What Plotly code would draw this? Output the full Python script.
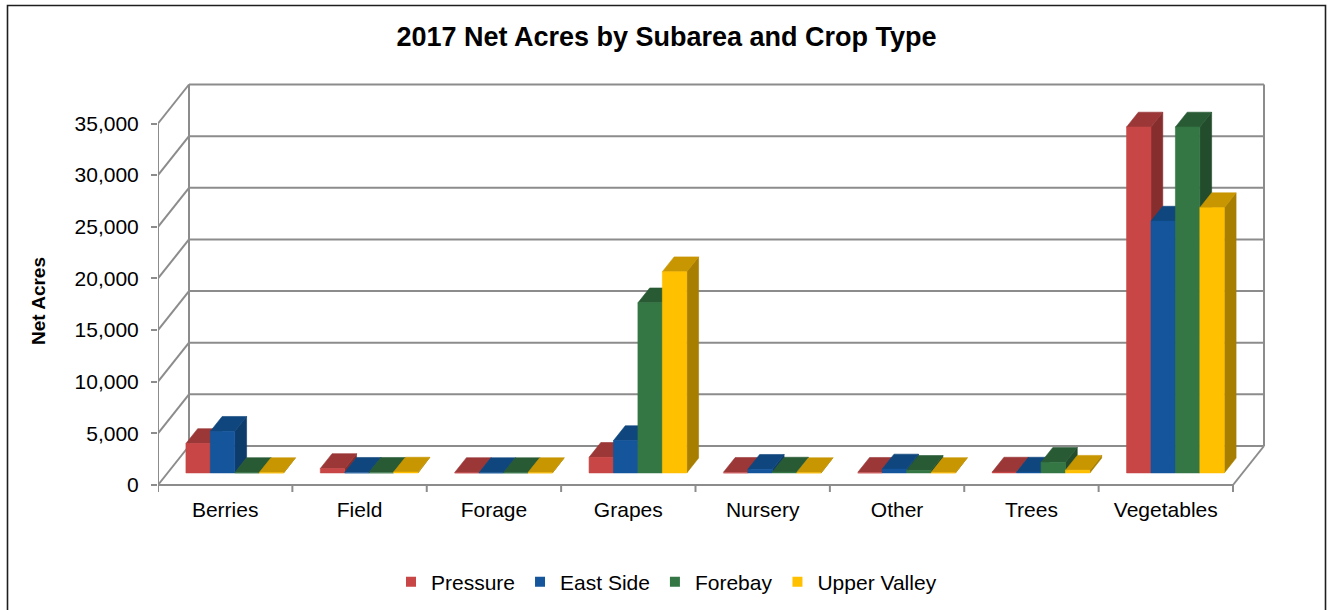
import plotly.graph_objects as go

# ---- data -------------------------------------------------------------
categories = ["Berries", "Field", "Forage", "Grapes", "Nursery", "Other", "Trees", "Vegetables"]
series_names = ["Pressure", "East Side", "Forebay", "Upper Valley"]
pressure = [2850, 430, 40, 1510, 60, 60, 80, 33490]
east_side = [4030, 60, 30, 3130, 350, 380, 80, 24380]
forebay = [40, 60, 30, 16470, 80, 250, 1030, 33490]
upper_valley = [30, 80, 30, 19480, 30, 40, 260, 25680]
y_ticks = [0, 5000, 10000, 15000, 20000, 25000, 30000, 35000]

series_values = [pressure, east_side, forebay, upper_valley]

# ---- styling ----------------------------------------------------------
front_colors = ["#C84646", "#14559B", "#347644", "#FFC000"]
top_colors = ["#9B3737", "#0F467E", "#285A34", "#C89600"]
side_colors = ["#862E2E", "#0D3B6A", "#224C2C", "#A87E00"]
grid_color = "#8C8C8C"
FONT = "Liberation Sans, Arial, sans-serif"

# ---- pixel geometry of the plotting box --------------------------------
W, H = 1333, 610
PLOT_L, PLOT_R, PLOT_T, PLOT_B = 158, 1272, 80, 495
ZERO_PX = 485                       # screen row of value 0 on the front plane
PX_PER_CAT = (1233 - PLOT_L) / len(categories)
PX_PER_VAL = 361.5 / 35000

# oblique depth of the walls, converted to data units
wall_dx = 31 / PX_PER_CAT
wall_dy = 39 / PX_PER_VAL
# bars sit in the middle slice of the depth
bar_f0, bar_f1 = 0.31, 0.69
bar_w = 1 / 5.5
group_off = (1 - len(series_names) * bar_w) / 2

x_range = [0, (PLOT_R - PLOT_L) / PX_PER_CAT]
y_range = [-(PLOT_B - ZERO_PX) / PX_PER_VAL, (ZERO_PX - PLOT_T) / PX_PER_VAL]

fig = go.Figure()

# ---- walls, floor and gridlines --------------------------------------
n = len(categories)
top_tick = y_ticks[-1]
gx, gy = [], []
for v in y_ticks:
    # back-wall gridline
    gx += [wall_dx, n + wall_dx, None]
    gy += [v + wall_dy, v + wall_dy, None]
    # side-wall diagonal
    gx += [0, wall_dx, None]
    gy += [v, v + wall_dy, None]
# back-wall verticals
gx += [wall_dx, wall_dx, None, n + wall_dx, n + wall_dx, None]
gy += [wall_dy, top_tick + wall_dy, None, wall_dy, top_tick + wall_dy, None]
# front vertical axis
gx += [0, 0, None]
gy += [0, top_tick, None]
# front floor edge and right floor edge
gx += [0, n, None, n, n + wall_dx, None]
gy += [0, 0, None, 0, wall_dy, None]
# category separators below the floor
tick_drop = 7 / PX_PER_VAL
for k in range(n + 1):
    gx += [k, k, None]
    gy += [0, -tick_drop, None]

fig.add_trace(go.Scatter(x=gx, y=gy, mode="lines",
                         line=dict(color=grid_color, width=2),
                         hoverinfo="skip", showlegend=False))

# ---- 3-D bars: side, top and front faces per series -------------------
ddx = (bar_f1 - bar_f0) * wall_dx
ddy = (bar_f1 - bar_f0) * wall_dy
base = bar_f0 * wall_dy
for s, vals in enumerate(series_values):
    fx, fy, tx, ty, sx, sy = [], [], [], [], [], []
    for i, v in enumerate(vals):
        xl = i + group_off + s * bar_w + bar_f0 * wall_dx
        xr = xl + bar_w
        yt = base + v
        fx += [xl, xr, xr, xl, xl, None]
        fy += [base, base, yt, yt, base, None]
        tx += [xl, xr, xr + ddx, xl + ddx, xl, None]
        ty += [yt, yt, yt + ddy, yt + ddy, yt, None]
        sx += [xr, xr + ddx, xr + ddx, xr, xr, None]
        sy += [base, base + ddy, yt + ddy, yt, base, None]
    for px, py, col in ((sx, sy, side_colors[s]), (tx, ty, top_colors[s]), (fx, fy, front_colors[s])):
        fig.add_trace(go.Scatter(x=px, y=py, mode="lines", fill="toself",
                                 fillcolor=col, line=dict(color=col, width=0.6),
                                 hoverinfo="skip", showlegend=False))

# legend entries
for s, name in enumerate(series_names):
    fig.add_trace(go.Scatter(x=[None], y=[None], mode="markers", name=name,
                             marker=dict(symbol="square", size=10, color=front_colors[s])))

# ---- layout ------------------------------------------------------------
def paper_x(px):
    return (px - PLOT_L) / (PLOT_R - PLOT_L)


def paper_y(py):
    return (PLOT_B - py) / (PLOT_B - PLOT_T)


fig.add_shape(type="path", xref="paper", yref="paper",
              path=f"M {paper_x(7.5)} {paper_y(611)} L {paper_x(7.5)} {paper_y(5.5)} "
                   f"L {paper_x(1325.5)} {paper_y(5.5)} L {paper_x(1325.5)} {paper_y(611)}",
              line=dict(color="#1E1E1E", width=1.6))

fig.add_annotation(text="<b>Net Acres</b>", textangle=-90,
                   xref="paper", yref="paper", x=paper_x(38), y=paper_y(301),
                   xanchor="center", yanchor="middle",
                   showarrow=False, font=dict(family=FONT, size=19, color="#000000"))

fig.update_layout(
    width=W, height=H,
    margin=dict(l=PLOT_L, r=W - PLOT_R, t=PLOT_T, b=H - PLOT_B, autoexpand=False),
    paper_bgcolor="white", plot_bgcolor="white",
    title=dict(text="<b>2017 Net Acres by Subarea and Crop Type</b>",
               xref="container", yref="container", x=0.5, xanchor="center",
               y=1 - 37 / H, yanchor="middle",
               font=dict(family=FONT, size=27, color="#000000")),
    legend=dict(orientation="h", xref="container", yref="container",
                x=0.5, xanchor="center", y=1 - 582 / H, yanchor="middle",
                font=dict(family=FONT, size=21, color="#000000"),
                itemwidth=30, tracegroupgap=0),
    xaxis=dict(range=x_range, showgrid=False, zeroline=False, showline=False,
               tickmode="array", tickvals=[i + 0.5 for i in range(n)], ticktext=categories,
               ticks="",
               tickfont=dict(family=FONT, size=21, color="#000000"),
               automargin=False, fixedrange=True),
    yaxis=dict(range=y_range, showgrid=False, zeroline=False, showline=False,
               tickmode="array", tickvals=y_ticks, tickformat=",",
               ticks="outside", ticklen=6, tickwidth=2, tickcolor=grid_color,
               ticklabelstandoff=8,
               tickfont=dict(family=FONT, size=21, color="#000000"),
               automargin=False, fixedrange=True),
)

fig.write_html("out.html")
